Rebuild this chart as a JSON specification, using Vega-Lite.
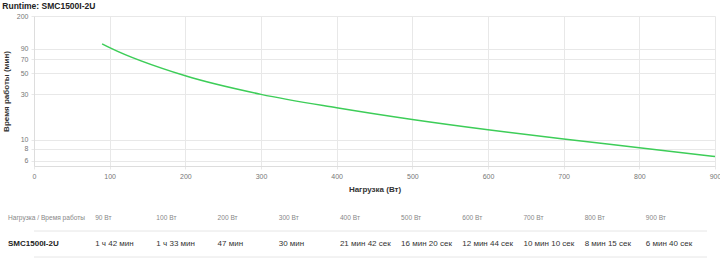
{
  "$schema": "https://vega.github.io/schema/vega-lite/v6.json",
  "background": "white",
  "padding": {"left": 2, "top": 1, "right": 0, "bottom": 0},
  "title": {"text": "Runtime: SMC1500I-2U", "anchor": "start", "frame": "bounds", "fontSize": 8.5, "fontWeight": "bold", "color": "#222222", "offset": 2, "font": "Liberation Sans"},
  "config": {
    "font": "Liberation Sans",
    "view": {"stroke": null},
    "concat": {"spacing": 12},
    "axis": {
      "gridColor": "#e8e8e8",
      "domainColor": "#dddddd",
      "tickColor": "#e8e8e8",
      "labelColor": "#777777",
      "labelFontSize": 7,
      "labelFont": "Liberation Sans",
      "titleFont": "Liberation Sans",
      "titleFontSize": 8,
      "titleColor": "#333333",
      "titleFontWeight": "bold"
    }
  },
  "vconcat": [
    {
      "width": 681,
      "height": 150,
      "data": {"values": [
        {"load": 90, "minutes": 102},
        {"load": 100, "minutes": 93},
        {"load": 200, "minutes": 47},
        {"load": 300, "minutes": 30},
        {"load": 400, "minutes": 21.7},
        {"load": 500, "minutes": 16.33},
        {"load": 600, "minutes": 12.73},
        {"load": 700, "minutes": 10.17},
        {"load": 800, "minutes": 8.25},
        {"load": 900, "minutes": 6.67}
      ]},
      "mark": {"type": "line", "interpolate": "monotone", "color": "#3dcd58", "strokeWidth": 1.5},
      "encoding": {
        "x": {
          "field": "load", "type": "quantitative",
          "scale": {"domain": [0, 900], "nice": false},
          "axis": {"title": "Нагрузка (Вт)", "values": [0, 100, 200, 300, 400, 500, 600, 700, 800, 900], "tickSize": 3, "labelPadding": 3, "titlePadding": 6, "labelFlush": false, "labelOverlap": false}
        },
        "y": {
          "field": "minutes", "type": "quantitative",
          "scale": {"type": "log", "domain": [5.3, 200], "nice": false},
          "axis": {"title": "Время работы (мин)", "values": [6, 8, 10, 30, 50, 70, 90, 200], "format": "d", "tickSize": 3, "labelPadding": 3, "titlePadding": 6, "labelFlush": false, "labelOverlap": false}
        }
      }
    },
    {
      "width": 673,
      "height": 52,
      "data": {"values": [
        {"row": "header", "col": "label", "text": "Нагрузка / Время работы"},
        {"row": "header", "col": "90", "text": "90 Вт"},
        {"row": "header", "col": "100", "text": "100 Вт"},
        {"row": "header", "col": "200", "text": "200 Вт"},
        {"row": "header", "col": "300", "text": "300 Вт"},
        {"row": "header", "col": "400", "text": "400 Вт"},
        {"row": "header", "col": "500", "text": "500 Вт"},
        {"row": "header", "col": "600", "text": "600 Вт"},
        {"row": "header", "col": "700", "text": "700 Вт"},
        {"row": "header", "col": "800", "text": "800 Вт"},
        {"row": "header", "col": "900", "text": "900 Вт"},
        {"row": "values", "col": "label", "text": "SMC1500I-2U"},
        {"row": "values", "col": "90", "text": "1 ч 42 мин"},
        {"row": "values", "col": "100", "text": "1 ч 33 мин"},
        {"row": "values", "col": "200", "text": "47 мин"},
        {"row": "values", "col": "300", "text": "30 мин"},
        {"row": "values", "col": "400", "text": "21 мин 42 сек"},
        {"row": "values", "col": "500", "text": "16 мин 20 сек"},
        {"row": "values", "col": "600", "text": "12 мин 44 сек"},
        {"row": "values", "col": "700", "text": "10 мин 10 сек"},
        {"row": "values", "col": "800", "text": "8 мин 15 сек"},
        {"row": "values", "col": "900", "text": "6 мин 40 сек"}
      ]},
      "layer": [
        {
          "transform": [{"filter": "datum.col == 'label'"}],
          "mark": {"type": "rule", "color": "#e6e6e6", "strokeWidth": 1},
          "encoding": {
            "y": {"field": "row", "type": "nominal", "bandPosition": 1, "scale": {"domain": ["header", "values"], "paddingInner": 0, "paddingOuter": 0}, "axis": null}
          }
        },
        {
          "transform": [{"filter": "datum.row == 'header' && datum.col != 'label'"}],
          "mark": {"type": "text", "align": "left", "baseline": "middle", "fontSize": 6.6, "color": "#888888"},
          "encoding": {
            "x": {"field": "col", "type": "nominal", "bandPosition": 0, "scale": {"type": "band", "domain": ["label", "90", "100", "200", "300", "400", "500", "600", "700", "800", "900"], "paddingInner": 0, "paddingOuter": 0}, "axis": null},
            "y": {"field": "row", "type": "nominal", "axis": null},
            "text": {"field": "text"}
          }
        },
        {
          "transform": [{"filter": "datum.row == 'values' && datum.col != 'label'"}],
          "mark": {"type": "text", "align": "left", "baseline": "middle", "fontSize": 8, "color": "#333333"},
          "encoding": {
            "x": {"field": "col", "type": "nominal", "bandPosition": 0, "axis": null},
            "y": {"field": "row", "type": "nominal", "axis": null},
            "text": {"field": "text"}
          }
        },
        {
          "transform": [{"filter": "datum.row == 'header' && datum.col == 'label'"}],
          "mark": {"type": "text", "align": "left", "baseline": "middle", "fontSize": 6.6, "color": "#888888", "dx": -26},
          "encoding": {
            "x": {"field": "col", "type": "nominal", "bandPosition": 0, "axis": null},
            "y": {"field": "row", "type": "nominal", "axis": null},
            "text": {"field": "text"}
          }
        },
        {
          "transform": [{"filter": "datum.row == 'values' && datum.col == 'label'"}],
          "mark": {"type": "text", "align": "left", "baseline": "middle", "fontSize": 8, "fontWeight": "bold", "color": "#222222", "dx": -26},
          "encoding": {
            "x": {"field": "col", "type": "nominal", "bandPosition": 0, "axis": null},
            "y": {"field": "row", "type": "nominal", "axis": null},
            "text": {"field": "text"}
          }
        }
      ]
    }
  ]
}
